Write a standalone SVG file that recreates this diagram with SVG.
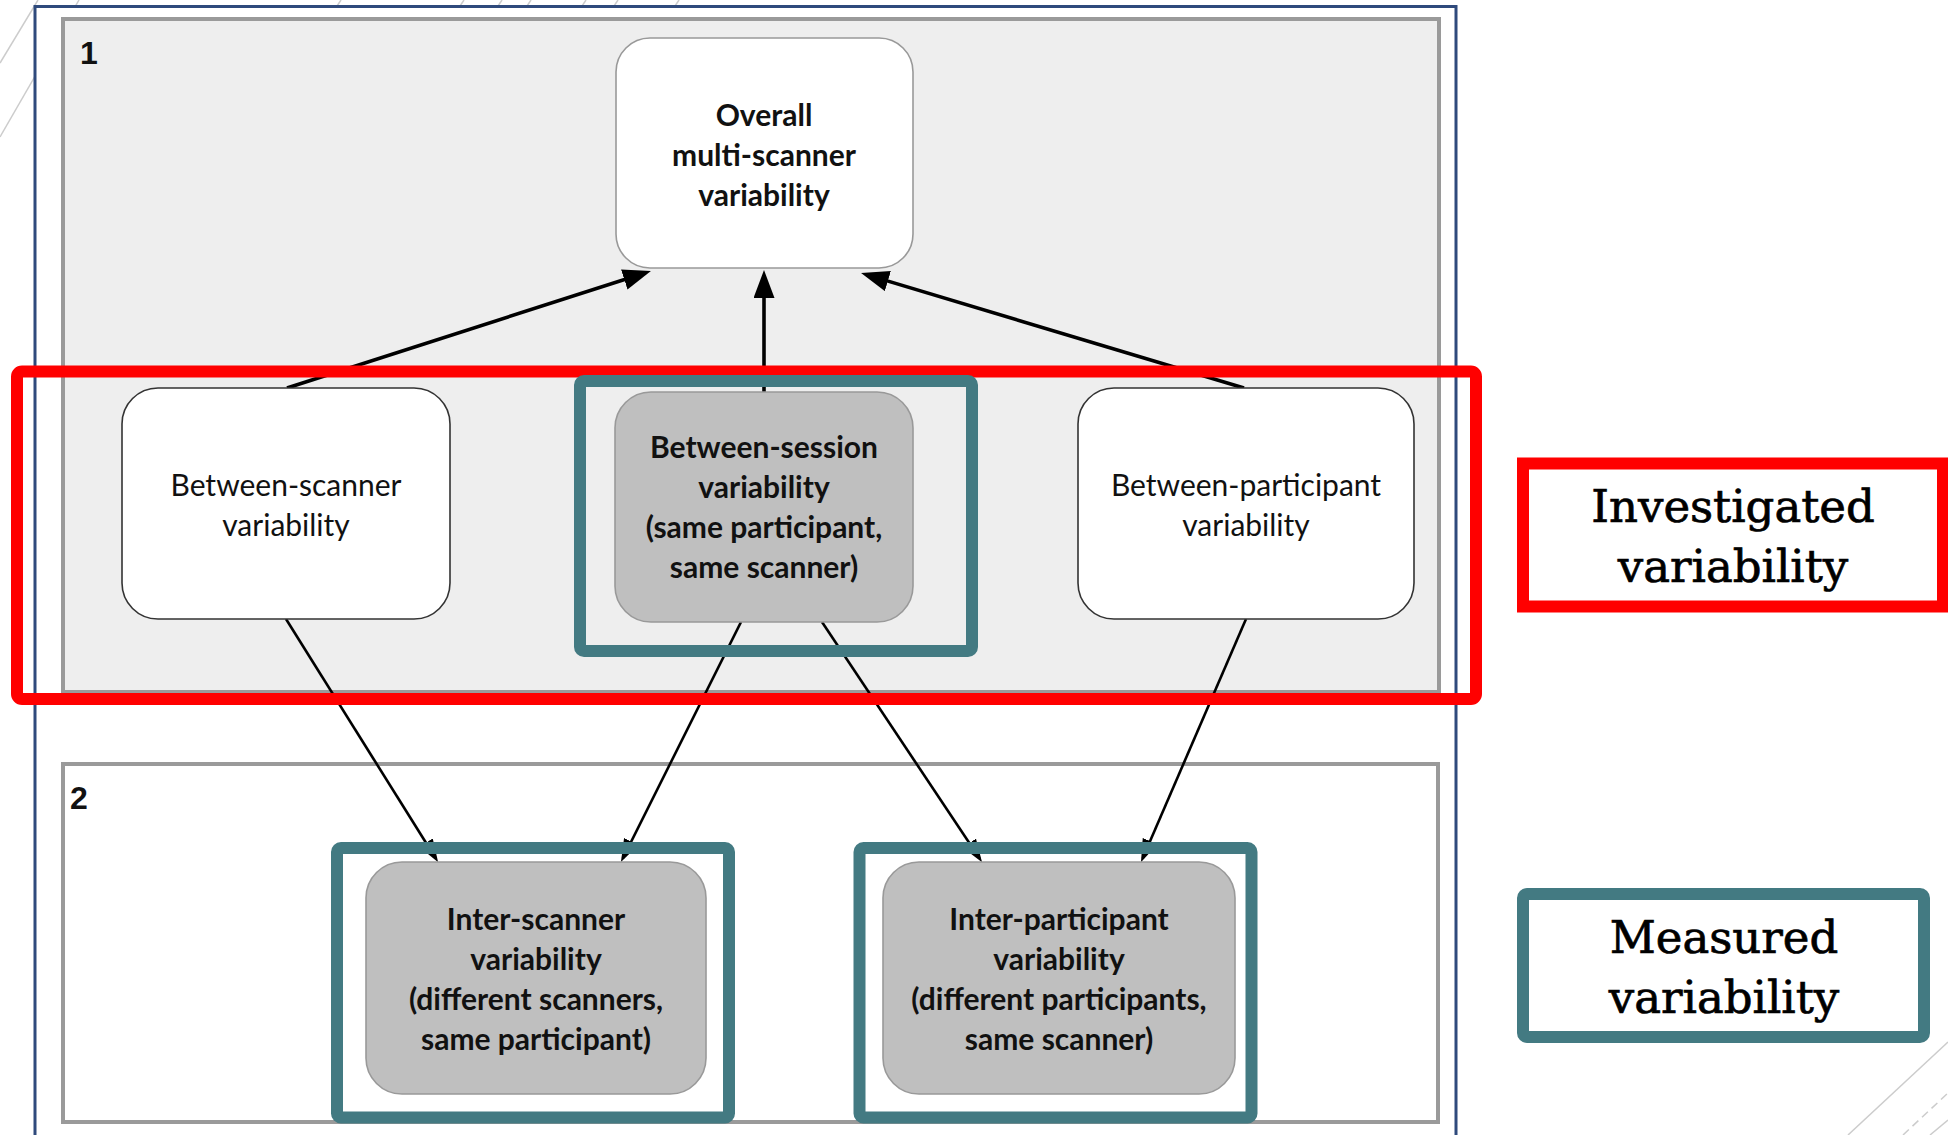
<svg xmlns="http://www.w3.org/2000/svg" width="1948" height="1135" viewBox="0 0 1948 1135">
<defs>
<style>
.deco{stroke:#cccccc;stroke-width:1.5;fill:none}
.panel{stroke:#9a9a9a;stroke-width:4}
.node{stroke-width:1.6}
.wn{fill:#ffffff;stroke:#333333}
.wg{fill:#ffffff;stroke:#999999}
.gn{fill:#bfbfbf;stroke:#999999}
.t{font-family:Lato,"Open Sans",sans-serif;font-size:30px;fill:#111111;text-anchor:middle}
.b{font-weight:bold}
.num{font-family:"Liberation Sans",Arial,sans-serif;font-weight:bold;font-size:32px;fill:#111111}
.up{stroke:#000000;stroke-width:3.6;fill:none;marker-end:url(#arrUp)}
.down{stroke:#000000;stroke-width:2.6;fill:none;marker-end:url(#arrDown)}
.teal{fill:none;stroke:#437a82;stroke-width:12}
.red{fill:none;stroke:#ff0000;stroke-width:12}
.leg{font-family:"DejaVu Serif","Liberation Serif",serif;font-size:45px;fill:#000000;stroke:#000000;stroke-width:0.7;text-anchor:middle}
</style>
<marker id="arrUp" viewBox="0 0 10 10" refX="8" refY="5" markerWidth="28" markerHeight="21" markerUnits="userSpaceOnUse" orient="auto" preserveAspectRatio="none">
<path d="M0,0 L10,5 L0,10 z" fill="#000000"/>
</marker>
<marker id="arrDown" viewBox="0 0 10 10" refX="8" refY="5" markerWidth="23" markerHeight="16" markerUnits="userSpaceOnUse" orient="auto" preserveAspectRatio="none">
<path d="M0,0 L10,5 L0,10 z" fill="#000000"/>
</marker>
</defs>
<rect x="0" y="0" width="1948" height="1135" fill="#ffffff"/>
<g id="decoration">
<line class="deco" x1="0" y1="63" x2="38" y2="0"/>
<line class="deco" x1="0" y1="137" x2="79" y2="0"/>
<line class="deco" x1="321" y1="30" x2="341" y2="0"/>
<line class="deco" x1="444" y1="30" x2="464" y2="0"/>
<line class="deco" x1="482" y1="30" x2="502" y2="0"/>
<line class="deco" x1="511" y1="30" x2="531" y2="0"/>
<line class="deco" x1="566" y1="30" x2="586" y2="0"/>
<line class="deco" x1="598" y1="30" x2="618" y2="0"/>
<line class="deco" x1="659" y1="30" x2="679" y2="0"/>
<line class="deco" x1="1848" y1="1135" x2="1948" y2="1042"/>
<line class="deco" x1="1903" y1="1135" x2="1948" y2="1093" stroke-dasharray="8 5"/>
<line class="deco" x1="1930" y1="1135" x2="1948" y2="1120"/>
</g>
<rect id="frame" x="35" y="6.5" width="1421" height="1140" fill="#ffffff" stroke="#2f4a7c" stroke-width="3"/>
<g id="panel1">
<rect class="panel" x="63" y="19" width="1376" height="673" fill="#eeeeee"/>
<text class="num" x="80" y="64">1</text>
</g>
<g id="panel2">
<rect class="panel" x="63" y="764" width="1375" height="358" fill="#ffffff"/>
<text class="num" x="70" y="809">2</text>
</g>
<g id="connectors">
<line class="up" x1="287" y1="388" x2="645.6" y2="272.7"/>
<line class="up" x1="764" y1="392" x2="764" y2="275.6"/>
<line class="up" x1="1244" y1="388" x2="866.4" y2="274.6"/>
<line class="down" x1="286" y1="619" x2="435.7" y2="858.3"/>
<line class="down" x1="741" y1="622" x2="623" y2="858"/>
<line class="down" x1="822" y1="622" x2="979.5" y2="858.3"/>
<line class="down" x1="1246" y1="619" x2="1142.8" y2="858"/>
</g>
<g id="overall">
<rect class="node wg" x="616" y="38" width="297" height="230" rx="34"/>
<text class="t b" x="764" y="126">Overall</text>
<text class="t b" x="764" y="166">multi-scanner</text>
<text class="t b" x="764" y="206">variability</text>
</g>
<g id="between-scanner">
<rect class="node wn" x="122" y="388" width="328" height="231" rx="36"/>
<text class="t" x="286" y="496">Between-scanner</text>
<text class="t" x="286" y="536">variability</text>
</g>
<g id="between-session">
<rect class="node gn" x="615" y="392" width="298" height="230" rx="36"/>
<text class="t b" x="764" y="458">Between-session</text>
<text class="t b" x="764" y="498">variability</text>
<text class="t b" x="764" y="538">(same participant,</text>
<text class="t b" x="764" y="578">same scanner)</text>
</g>
<g id="between-participant">
<rect class="node wn" x="1078" y="388" width="336" height="231" rx="36"/>
<text class="t" x="1246" y="496">Between-participant</text>
<text class="t" x="1246" y="536">variability</text>
</g>
<g id="inter-scanner">
<rect class="node gn" x="366" y="862" width="340" height="232" rx="36"/>
<text class="t b" x="536" y="930">Inter-scanner</text>
<text class="t b" x="536" y="970">variability</text>
<text class="t b" x="536" y="1010">(different scanners,</text>
<text class="t b" x="536" y="1050">same participant)</text>
</g>
<g id="inter-participant">
<rect class="node gn" x="883" y="862" width="352" height="232" rx="36"/>
<text class="t b" x="1059" y="930">Inter-participant</text>
<text class="t b" x="1059" y="970">variability</text>
<text class="t b" x="1059" y="1010">(different participants,</text>
<text class="t b" x="1059" y="1050">same scanner)</text>
</g>
<g id="investigated-region">
<rect class="red" x="17" y="371.5" width="1459" height="327.5" rx="5"/>
</g>
<g id="measured-highlights">
<rect class="teal" x="580" y="381" width="392" height="270" rx="4"/>
<rect class="teal" x="337" y="848" width="392" height="269.5" rx="4"/>
<rect class="teal" x="859.5" y="848" width="392" height="269.5" rx="4"/>
</g>
<g id="legend-investigated">
<rect class="red" x="1523" y="463.5" width="420" height="143"/>
<text class="leg" x="1733" y="522">Investigated</text>
<text class="leg" x="1733" y="582">variability</text>
</g>
<g id="legend-measured">
<rect class="teal" x="1523" y="894" width="401" height="143" rx="4"/>
<text class="leg" x="1724" y="953">Measured</text>
<text class="leg" x="1724" y="1013">variability</text>
</g>
</svg>
